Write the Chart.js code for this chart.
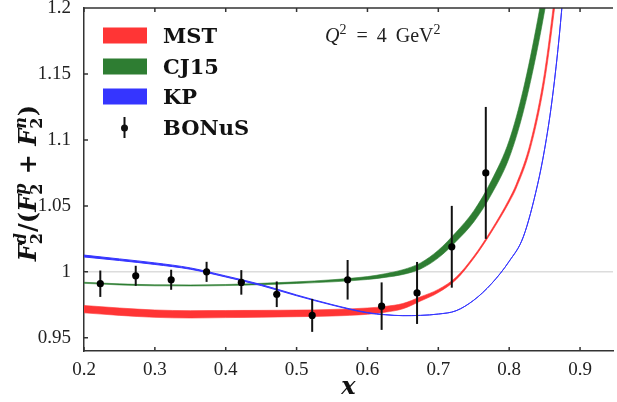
<!DOCTYPE html>
<html>
<head>
<meta charset="utf-8">
<script src="https://cdn.jsdelivr.net/npm/chart.js@4.4.1/dist/chart.umd.min.js"></script>
<style>
  html, body { margin: 0; padding: 0; background: #fff; }
</style>
</head>
<body>
<canvas id="ratioChart" width="617" height="402"></canvas>
<script>
// tick values
const xTicks = [0.2, 0.3, 0.4, 0.5, 0.6, 0.7, 0.8, 0.9];
const yTicks = [0.95, 1, 1.05, 1.1, 1.15, 1.2];
const refLine = 1;

// BONuS data points
const bonusX = [0.223, 0.273, 0.323, 0.373, 0.422, 0.472, 0.522, 0.572, 0.620, 0.670, 0.719, 0.767];
const bonusY = [0.991, 0.997, 0.994, 1.000, 0.992, 0.983, 0.967, 0.994, 0.974, 0.984, 1.019, 1.075];
const bonusErr = [0.0100, 0.0076, 0.0076, 0.0076, 0.0093, 0.0097, 0.0125, 0.0150, 0.0180, 0.0235, 0.0310, 0.0500];

// MST band (centre and half width)
const mstX = [0.2, 0.25, 0.3, 0.35, 0.4, 0.45, 0.5, 0.55, 0.6, 0.625, 0.65, 0.675, 0.7, 0.725, 0.75, 0.775, 0.8, 0.81, 0.83, 0.85, 0.87];
const mstY = [0.9717, 0.9698, 0.9683, 0.9678, 0.9680, 0.9682, 0.9685, 0.9690, 0.9702, 0.9716, 0.9740, 0.9795, 0.9855, 0.9950, 1.0110, 1.0310, 1.0540, 1.0650, 1.0960, 1.1480, 1.2300];
const mstW = [0.0028, 0.0028, 0.0028, 0.0028, 0.0027, 0.0026, 0.0025, 0.0025, 0.0024, 0.0022, 0.0020, 0.0016, 0.0012, 0.0009, 0.0008, 0.0009, 0.0012, 0.0015, 0.0022, 0.0035, 0.0055];

// CJ15 band
const cjX = [0.2, 0.25, 0.3, 0.35, 0.4, 0.45, 0.5, 0.55, 0.6, 0.625, 0.65, 0.675, 0.7, 0.725, 0.75, 0.775, 0.8, 0.82, 0.84, 0.86];
const cjY = [0.9917, 0.9905, 0.9898, 0.9897, 0.9900, 0.9908, 0.9918, 0.9932, 0.9953, 0.9972, 0.9998, 1.0045, 1.0135, 1.0265, 1.0420, 1.0640, 1.0930, 1.1300, 1.1800, 1.2400];
const cjW = [0.0004, 0.0004, 0.0004, 0.0004, 0.0004, 0.0005, 0.0006, 0.0008, 0.0011, 0.0014, 0.0018, 0.0023, 0.0029, 0.0035, 0.0042, 0.0052, 0.0066, 0.0085, 0.0105, 0.0125];

// KP band
const kpX = [0.2, 0.25, 0.3, 0.35, 0.4, 0.45, 0.5, 0.55, 0.6, 0.625, 0.65, 0.675, 0.7, 0.725, 0.75, 0.775, 0.8, 0.82, 0.84, 0.85, 0.86, 0.87, 0.88];
const kpY = [1.0120, 1.0092, 1.0062, 1.0025, 0.9965, 0.9900, 0.9822, 0.9750, 0.9690, 0.9675, 0.9668, 0.9670, 0.9680, 0.9705, 0.9785, 0.9910, 1.0080, 1.0266, 1.0660, 1.0930, 1.1280, 1.1750, 1.2350];
const kpW = [0.0007, 0.0006, 0.0006, 0.0005, 0.0004, 0.0004, 0.0003, 0.0002, 0.0002, 0.0001, 0, 0, 0, 0, 0, 0, 0, 0, 0, 0, 0, 0, 0];

const legendLabels = ['MST', 'CJ15', 'KP', 'BONuS'];
const colors = { mst: '#ff3535', cj: '#2e7d32', kp: '#3535ff' };

const serif = 'DejaVu Serif';
const roman = 'Liberation Serif';

function edge(xs, ys, ws, sign) {
    return xs.map((x, i) => ({ x: x, y: ys[i] + sign * ws[i] }));
}

function bandSets(xs, ys, ws, color, bw) {
    const common = {
        borderColor: color,
        borderWidth: bw,
        pointRadius: 0,
        cubicInterpolationMode: 'monotone'
    };
    return [
        Object.assign({ data: edge(xs, ys, ws, -1), fill: false }, common),
        Object.assign({ data: edge(xs, ys, ws, 1), fill: '-1', backgroundColor: color }, common)
    ];
}

// draws text pieces with sub/superscripts, returns width
function drawMath(ctx, pieces, x, y, size, weight, family, doDraw) {
    const small = Math.round(size * 0.68);
    let cx = x;
    pieces.forEach(p => {
        if (p.t !== undefined) {
            ctx.font = `${p.it ? 'italic ' : ''}${weight} ${size}px "${family}"`;
            if (doDraw) ctx.fillText(p.t, cx, y);
            cx += ctx.measureText(p.t).width;
        } else {
            let w = 0;
            if (p.sub) {
                ctx.font = `${weight} ${small}px "${family}"`;
                if (doDraw) ctx.fillText(p.sub, cx, y + size * 0.25);
                w = Math.max(w, ctx.measureText(p.sub).width);
            }
            if (p.sup) {
                ctx.font = `${p.supIt ? 'italic ' : ''}${weight} ${small}px "${family}"`;
                if (doDraw) ctx.fillText(p.sup, cx, y - size * 0.42);
                w = Math.max(w, ctx.measureText(p.sup).width);
            }
            cx += w + 1;
        }
    });
    return cx - x;
}

const decor = {
    id: 'decor',
    beforeDatasetsDraw(chart) {
        const { ctx, chartArea: a, scales: { y } } = chart;
        const py = y.getPixelForValue(refLine);
        ctx.save();
        ctx.strokeStyle = '#dcdcdc';
        ctx.lineWidth = 1.5;
        ctx.beginPath();
        ctx.moveTo(a.left, py);
        ctx.lineTo(a.right, py);
        ctx.stroke();
        ctx.restore();
    },
    beforeDatasetDraw(chart, args) {
        if (args.index !== 0) return;
        const { ctx, scales: { x, y } } = chart;
        ctx.save();
        ctx.strokeStyle = '#111';
        ctx.lineWidth = 2;
        bonusX.forEach((v, i) => {
            const px = x.getPixelForValue(v);
            ctx.beginPath();
            ctx.moveTo(px, y.getPixelForValue(bonusY[i] - bonusErr[i]));
            ctx.lineTo(px, y.getPixelForValue(bonusY[i] + bonusErr[i]));
            ctx.stroke();
        });
        ctx.restore();
    },
    afterDraw(chart) {
        const { ctx, chartArea: a, scales: { x, y } } = chart;
        ctx.save();

        // inward ticks + top frame
        ctx.strokeStyle = '#333';
        ctx.lineWidth = 1.5;
        ctx.beginPath();
        ctx.moveTo(a.left, a.top);
        ctx.lineTo(a.right, a.top);
        xTicks.forEach(v => {
            const px = x.getPixelForValue(v);
            ctx.moveTo(px, a.bottom);
            ctx.lineTo(px, a.bottom - 4);
            ctx.moveTo(px, a.top);
            ctx.lineTo(px, a.top + 4);
        });
        yTicks.forEach(v => {
            const py = y.getPixelForValue(v);
            ctx.moveTo(a.left, py);
            ctx.lineTo(a.left + 4, py);
        });
        ctx.stroke();

        // legend
        const swatch = [colors.mst, colors.cj, colors.kp];
        const baselines = [43, 74, 104, 135];
        ctx.fillStyle = '#111';
        legendLabels.forEach((lab, i) => {
            const b = baselines[i];
            if (i < 3) {
                ctx.fillStyle = swatch[i];
                ctx.fillRect(103, b - 15.5, 44, 16);
                ctx.fillStyle = '#111';
            } else {
                ctx.strokeStyle = '#111';
                ctx.lineWidth = 2;
                ctx.beginPath();
                ctx.moveTo(124.5, b - 18);
                ctx.lineTo(124.5, b + 3);
                ctx.stroke();
                ctx.beginPath();
                ctx.arc(124.5, b - 7, 3.5, 0, Math.PI * 2);
                ctx.fill();
            }
            ctx.font = `bold 21px "${serif}"`;
            ctx.fillText(lab, 163, b);
        });

        // Q^2 label
        ctx.fillStyle = '#222';
        drawMath(ctx, [{ t: 'Q', it: true }, { sup: '2' }, { t: ' \u2009=\u2009 4\u2009 GeV' }, { sup: '2' }], 325, 42, 20, 'normal', roman, true);

        // x axis title
        ctx.fillStyle = '#111';
        ctx.font = `italic bold 24px "${serif}"`;
        ctx.textAlign = 'center';
        ctx.fillText('x', (a.left + a.right) / 2, 394);
        ctx.textAlign = 'left';

        // y axis title
        const yTitle = [
            { t: 'F', it: true }, { sub: '2', sup: 'd', supIt: true },
            { t: '/(' }, { t: 'F', it: true }, { sub: '2', sup: 'p', supIt: true },
            { t: ' + ' }, { t: 'F', it: true }, { sub: '2', sup: 'n', supIt: true }, { t: ')' }
        ];
        ctx.translate(36, 183);
        ctx.rotate(-Math.PI / 2);
        const w = drawMath(ctx, yTitle, 0, 0, 24, 'bold', serif, false);
        drawMath(ctx, yTitle, -w / 2, 0, 24, 'bold', serif, true);
        ctx.restore();
    }
};

const pointSet = {
    data: bonusX.map((v, i) => ({ x: v, y: bonusY[i] })),
    showLine: false,
    pointRadius: 3.6,
    pointBackgroundColor: '#000',
    pointBorderWidth: 0,
    borderColor: '#000'
};

const tickFont = { family: roman, size: 19 };

new Chart(document.getElementById('ratioChart'), {
    type: 'line',
    data: {
        datasets: [pointSet]
            .concat(bandSets(kpX, kpY, kpW, colors.kp, 1))
            .concat(bandSets(cjX, cjY, cjW, colors.cj, 0.6))
            .concat(bandSets(mstX, mstY, mstW, colors.mst, 0.6))
    },
    options: {
        responsive: false,
        animation: false,
        events: [],
        layout: { padding: { top: 8, right: 0, left: 0, bottom: 0 } },
        plugins: { legend: { display: false }, tooltip: { enabled: false } },
        scales: {
            x: {
                type: 'linear',
                min: 0.2,
                max: 0.9465,
                afterBuildTicks: s => { s.ticks = xTicks.map(v => ({ value: v })); },
                afterFit: s => { s.height = 51; s.paddingLeft = 0; s.paddingRight = 0; },
                grid: { display: false },
                border: { display: true, color: '#333', width: 1.5 },
                ticks: {
                    font: tickFont, color: '#222', padding: 0, maxRotation: 0, autoSkip: false,
                    callback: v => v.toFixed(1)
                }
            },
            y: {
                min: 0.94,
                max: 1.2,
                afterBuildTicks: s => { s.ticks = yTicks.map(v => ({ value: v })); },
                afterFit: s => { s.width = 84; s.paddingTop = 0; s.paddingBottom = 0; },
                grid: { display: false },
                border: { display: true, color: '#333', width: 1.5 },
                ticks: {
                    font: tickFont, color: '#222', padding: 5, autoSkip: false,
                    callback: v => String(Math.round(v * 100) / 100)
                }
            }
        }
    },
    plugins: [decor]
});
</script>
</body>
</html>
